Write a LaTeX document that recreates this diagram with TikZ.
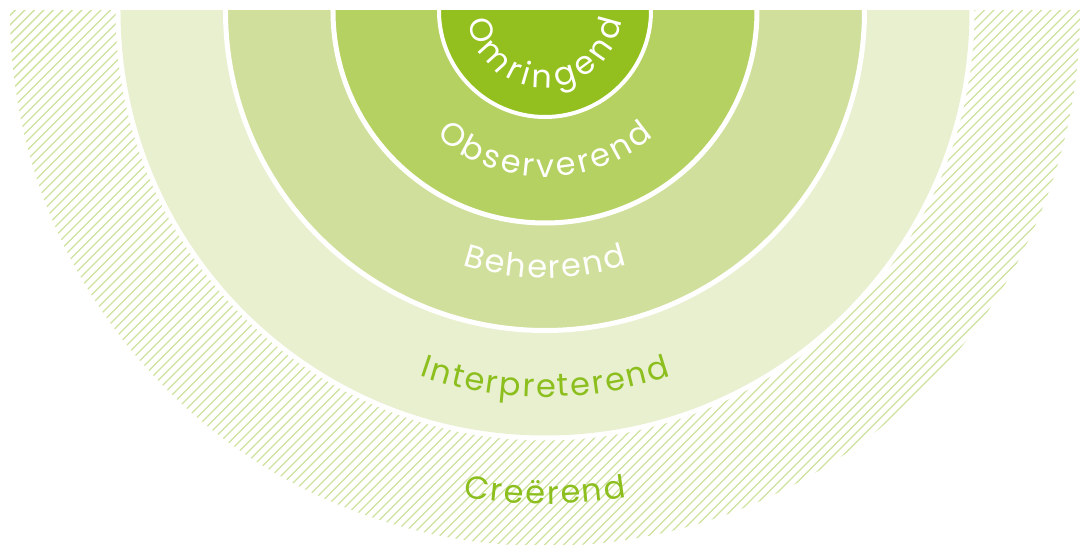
\documentclass[tikz,border=0pt]{standalone}
\usepackage{fontspec}
\setmainfont{Poppins}
\definecolor{hatchc}{HTML}{CFE29E}
\definecolor{ringA}{HTML}{E8F0CF}
\definecolor{ringB}{HTML}{D0E09C}
\definecolor{ringC}{HTML}{B5D162}
\definecolor{ringD}{HTML}{93C01F}
\definecolor{textg}{HTML}{8CBF1E}
\newcommand{\lblfont}{\fontsize{32}{38}\selectfont}
\tikzset{
  hatchline/.style={hatchc, line width=1.4pt},
  ringsep/.style={draw=white, line width=#1},
  arcchar/.style={inner sep=0pt, outer sep=0pt, anchor=base, font=\lblfont}
}
\newlength\chw
\newlength\totw
% measure characters (outside the picture): #1 list macro, #2 characters
\newcommand\measure[2]{%
  \gdef#1{}%
  \foreach \c in {#2}{%
    \settowidth{\chw}{\lblfont\c}%
    \xdef#1{#1\ifx#1\empty\else,\fi\c/\the\chw}}%
}
% #1 radius (pt), #2 tracking (pt), #3 colour, #4 measured list
\newcommand\arctext[4]{%
  \global\totw=0pt
  \foreach \c/\w in #4{%
    \global\advance\totw by \w
    \global\advance\totw by #2pt}%
  \pgfmathsetmacro\tmpa{270 - deg(0.5*(\totw - #2)/#1)}%
  \xdef\curang{\tmpa}%
  \foreach \c/\w in #4{%
    \pgfmathsetmacro\tmpb{\curang + deg(0.5*\w/#1)}%
    \node[arcchar, text=#3, rotate=\tmpb+90] at (\tmpb:#1pt) {\c};
    \pgfmathsetmacro\tmpc{\curang + deg((\w + #2)/#1)}%
    \xdef\curang{\tmpc}%
  }%
}
\begin{document}
\measure\lstOm{O,m,r,i,n,g,e,n,d}%
\measure\lstOb{O,b,s,e,r,v,e,r,e,n,d}%
\measure\lstBe{B,e,h,e,r,e,n,d}%
\measure\lstIn{I,n,t,e,r,p,r,e,t,e,r,e,n,d}%
\measure\lstCr{C,r,e,ë,r,e,n,d}%
\begin{tikzpicture}[x=1pt,y=1pt]
\useasboundingbox[fill=white] (-545,11) rectangle (535,-534);
% hatched outer band
\begin{scope}
  \clip (-545,0) rectangle (535,-540);
  \clip (0,0) circle (535pt);
  \foreach \i in {-1100,-1090.5,...,600} \draw[hatchline] (\i,-560) -- ++(580,580);
\end{scope}
% rings
\begin{scope}
  \clip (-545,0) rectangle (535,-540);
  \fill[white] (0,0) circle (429.5pt);
  \fill[ringA] (0,0) circle (424.5pt);
  \draw[ringsep=5pt, fill=ringB] (0,0) circle (319.5pt);
  \draw[ringsep=5pt, fill=ringC] (0,0) circle (212pt);
  \draw[ringsep=4pt, fill=ringD] (0,0) circle (106pt);
\end{scope}
% labels
\arctext{77}{5}{white}{\lstOm}
\arctext{166}{3}{white}{\lstOb}
\arctext{267}{2}{white}{\lstBe}
\arctext{386}{2}{textg}{\lstIn}
\arctext{493}{2}{textg}{\lstCr}
\end{tikzpicture}
\end{document}
